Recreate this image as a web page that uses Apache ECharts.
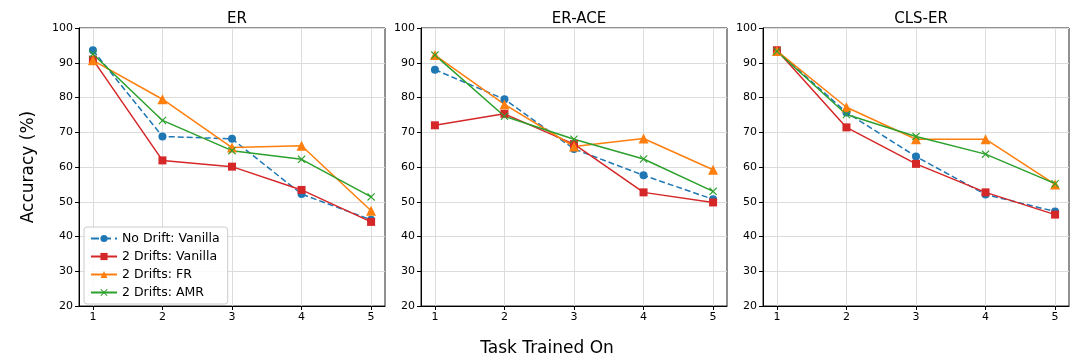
<!DOCTYPE html>
<html>
<head>
<meta charset="utf-8">
<script src="https://cdn.jsdelivr.net/npm/echarts@6/dist/echarts.min.js"></script>
<style>
  html, body { margin: 0; padding: 0; background: #fff; }
  #chart { width: 1080px; height: 360px; }
</style>
</head>
<body>
<div id="chart"></div>
<script>
// x positions (task index)
var tasks = [1, 2, 3, 4, 5]
var panelNames = ['ER', 'ER-ACE', 'CLS-ER']
var seriesNames = ['No Drift: Vanilla', '2 Drifts: Vanilla', '2 Drifts: FR', '2 Drifts: AMR']

// ER panel
var erNoDrift = [93.6, 68.8, 68.1, 52.2, 44.8]
var erVanilla = [90.9, 61.9, 60.1, 53.4, 44.2]
var erFR = [90.7, 79.5, 65.6, 66.1, 47.4]
var erAMR = [92.5, 73.4, 64.7, 62.2, 51.4]

// ER-ACE panel
var aceNoDrift = [88.0, 79.5, 65.2, 57.6, 50.7]
var aceVanilla = [72.0, 75.3, 66.6, 52.7, 49.8]
var aceFR = [92.2, 78.0, 65.9, 68.2, 59.2]
var aceAMR = [92.2, 74.6, 68.0, 62.3, 53.0]

// CLS-ER panel
var clsNoDrift = [93.4, 75.7, 63.0, 52.1, 47.2]
var clsVanilla = [93.6, 71.4, 60.9, 52.7, 46.3]
var clsFR = [93.4, 77.2, 68.0, 68.0, 55.0]
var clsAMR = [93.3, 75.1, 68.8, 63.7, 55.2]

var panelData = [
    [erNoDrift, erVanilla, erFR, erAMR],
    [aceNoDrift, aceVanilla, aceFR, aceAMR],
    [clsNoDrift, clsVanilla, clsFR, clsAMR]
]

var colors = ['#1f77b4', '#d62728', '#ff7f0e', '#2ca02c']
var xMark = 'path://M1,0L5,4L9,0L10,1L6,5L10,9L9,10L5,6L1,10L0,9L4,5L0,1Z'
var symbols = ['circle', 'rect', 'triangle', xMark]
var symbolSizes = [8, 8, 10, 8]
var lineTypes = ['dashed', 'solid', 'solid', 'solid']

var gridLefts = [79, 421, 763]
var font = 'DejaVu Sans'

var grids = [], xAxes = [], yAxes = [], series = [], titles = []
for (let p = 0; p < 3; p++) {
    grids.push({
        left: gridLefts[p], top: 28, width: 306, height: 278,
        show: true, borderColor: '#222', borderWidth: 1, backgroundColor: 'transparent'
    })
    xAxes.push({
        type: 'value', gridIndex: p, min: 0.8, max: 5.2,
        axisLine: { show: true, onZero: false, lineStyle: { color: '#000', width: 1 } },
        axisTick: { show: true, length: 4, customValues: tasks, lineStyle: { color: '#000' } },
        axisLabel: { customValues: tasks, color: '#000', fontSize: 11, fontFamily: font, margin: 6 },
        splitLine: { show: true, lineStyle: { color: '#dcdcdc', width: 1 } }
    })
    yAxes.push({
        type: 'value', gridIndex: p, min: 20, max: 100, interval: 10,
        name: p === 0 ? 'Accuracy (%)' : '',
        nameLocation: 'middle', nameGap: 42,
        nameTextStyle: { fontSize: 17, fontFamily: font, color: '#000' },
        axisLine: { show: true, lineStyle: { color: '#000', width: 1 } },
        axisTick: { show: true, length: 4, lineStyle: { color: '#000' } },
        axisLabel: { color: '#000', fontSize: 11, fontFamily: font, margin: 6 },
        splitLine: { show: true, lineStyle: { color: '#dcdcdc', width: 1 } }
    })
    titles.push({
        text: panelNames[p], left: gridLefts[p] + 153, top: 7, textAlign: 'center',
        textStyle: { fontSize: 15, fontWeight: 'normal', fontFamily: font, color: '#000' }
    })
    for (let s = 0; s < 4; s++) {
        series.push({
            name: seriesNames[s], type: 'line',
            xAxisIndex: p, yAxisIndex: p,
            data: tasks.map((t, i) => [t, panelData[p][s][i]]),
            symbol: symbols[s], symbolSize: symbolSizes[s], showAllSymbol: true,
            color: colors[s],
            itemStyle: { color: colors[s] },
            lineStyle: { color: colors[s], width: 1.5, type: lineTypes[s] },
            emphasis: { disabled: true },
            animation: false
        })
    }
}
titles.push({
    text: 'Task Trained On', left: 542, top: 335, textAlign: 'center',
    textStyle: { fontSize: 17, fontWeight: 'normal', fontFamily: font, color: '#000' }
})

var chart = echarts.init(document.getElementById('chart'))
chart.setOption({
    backgroundColor: '#fff',
    animation: false,
    title: titles,
    grid: grids,
    xAxis: xAxes,
    yAxis: yAxes,
    legend: {
        data: seriesNames,
        orient: 'vertical',
        left: 84, top: 227,
        itemWidth: 26, itemHeight: 9, itemGap: 5,
        padding: [5, 8, 5, 6],
        borderColor: '#ccc', borderWidth: 1, borderRadius: 3,
        backgroundColor: 'rgba(255,255,255,0.85)',
        textStyle: { fontSize: 12.5, fontFamily: font, color: '#000' }
    },
    series: series
})
</script>
</body>
</html>
